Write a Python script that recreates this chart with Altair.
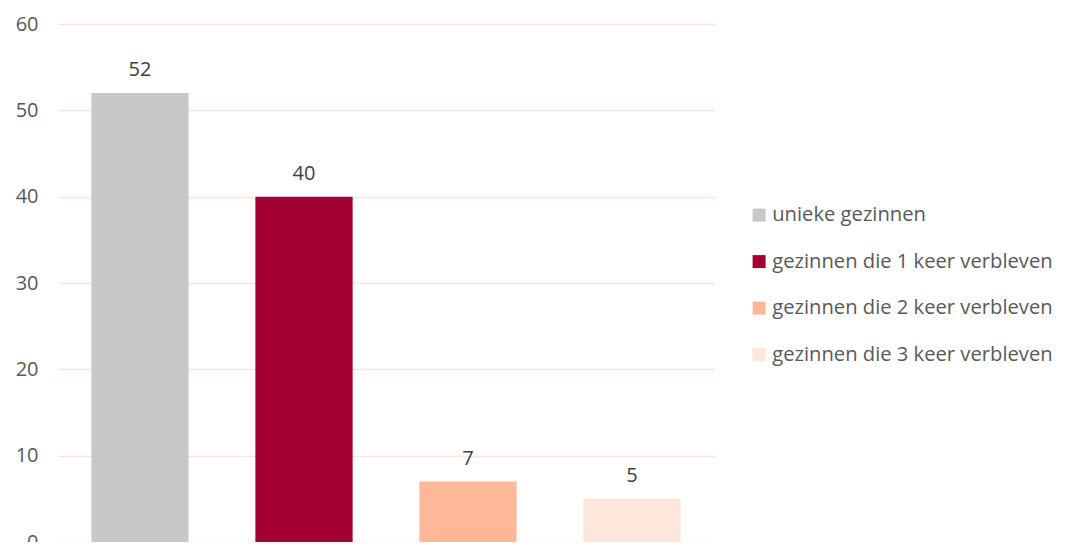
import altair as alt
import pandas as pd

categories = [
    "unieke gezinnen",
    "gezinnen die 1 keer verbleven",
    "gezinnen die 2 keer verbleven",
    "gezinnen die 3 keer verbleven",
]
values = [52, 40, 7, 5]
colors = ["#C8C8C8", "#A50034", "#FFB897", "#FDE6DB"]

df = pd.DataFrame({"categorie": categories, "aantal": values})

FONT = "Open Sans"
FS = 20

x = alt.X(
    "categorie:N",
    sort=categories,
    axis=None,
    scale=alt.Scale(paddingInner=0.407, paddingOuter=0.2035),
)
y = alt.Y(
    "aantal:Q",
    scale=alt.Scale(domain=[0, 60], nice=False),
    axis=alt.Axis(
        values=[0, 10, 20, 30, 40, 50, 60],
        title=None,
        domain=False,
        ticks=False,
        labelFontSize=FS,
        labelColor="#595959",
        labelFont=FONT,
        labelPadding=20,
        gridColor="#FDE3D8",
        gridWidth=1.5,
    ),
)

bars = alt.Chart(df).mark_bar().encode(
    x=x,
    y=y,
    color=alt.Color(
        "categorie:N",
        sort=categories,
        scale=alt.Scale(domain=categories, range=colors),
        legend=alt.Legend(
            title=None,
            orient="none",
            legendX=691,
            legendY=181,
            symbolType="square",
            symbolSize=169,
            symbolStrokeWidth=0,
            labelFontSize=20.2,
            labelFont=FONT,
            labelColor="#595959",
            labelLimit=0,
            rowPadding=25.5,
            labelOffset=3,
        ),
    ),
)

labels = alt.Chart(df).mark_text(
    baseline="bottom", dy=-13, fontSize=FS, font=FONT, color="#404040"
).encode(x=x, y=y, text="aantal:Q")

chart = (
    alt.layer(bars, labels)
    .properties(
        width=656,
        height=518,
        autosize=alt.AutoSizeParams(type="none"),
        padding={"left": 50, "top": 16, "right": 343, "bottom": 0},
    )
    .configure_view(stroke=None)
)

chart.save("out.html", embed_options={"renderer": "svg", "actions": False})
